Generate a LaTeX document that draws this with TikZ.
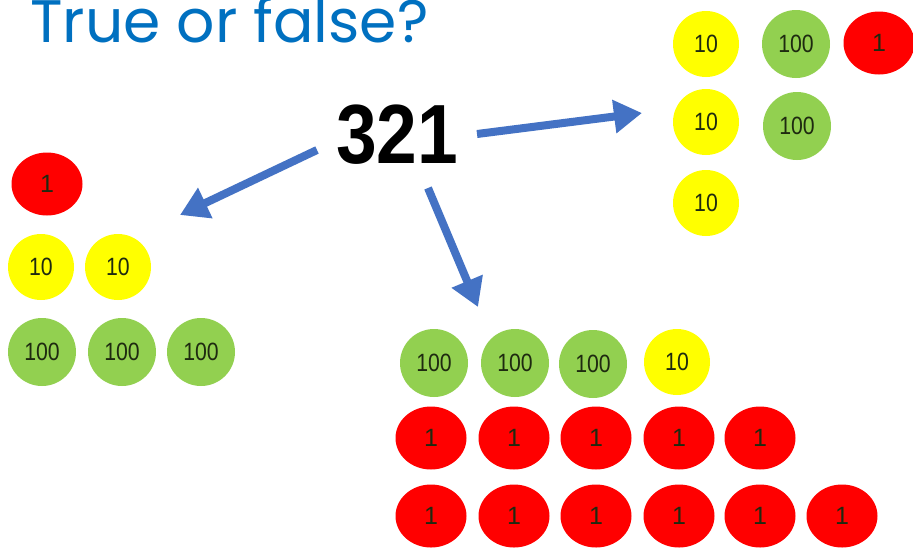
\documentclass[tikz,border=0pt]{standalone}
\usepackage{fontspec}
\setmainfont{Liberation Sans}
\newfontfamily\titlefont{Poppins}
\newfontfamily\numfont{Liberation Sans}
\usetikzlibrary{shapes.geometric,arrows.meta}
\definecolor{chipyellow}{HTML}{FFFF00}
\definecolor{chipgreen}{HTML}{92D050}
\definecolor{chipred}{HTML}{FF0000}
\definecolor{arrowblue}{HTML}{4472C4}
\definecolor{titleblue}{HTML}{0070C0}
\definecolor{chiptext}{HTML}{1E2A10}
\tikzset{
  chip/.style={inner sep=0pt, text=chiptext, font=\numfont\fontsize{25}{25}\selectfont},
  ten/.style={chip, circle, fill=chipyellow, minimum size=66pt},
  hundred/.style={chip, circle, fill=chipgreen, minimum size=68pt},
  one/.style={chip, ellipse, fill=chipred, minimum width=71pt, minimum height=63pt},
  arr/.style={draw=arrowblue, line width=8pt, -{Triangle[length=28pt,width=32pt]}},
}
\begin{document}
\begin{tikzpicture}[x=1pt,y=-1pt]
\useasboundingbox (0,0) rectangle (913,550);
\fill[white] (0,0) rectangle (913,550);
% title
\node[anchor=base west, inner sep=0pt, text=titleblue, font=\titlefont\fontsize{60}{60}\selectfont] (title) at (30,42) {True or false?};
% central number
\node[inner sep=0pt, font=\numfont\bfseries\fontsize{84}{84}\selectfont] (num) at (397,135) {\scalebox{0.87}[1]{321}};
% top right group
\node[ten] (tr1) at (706,44) {\scalebox{0.85}[1]{10}};
\node[hundred] (tr2) at (796,44) {\scalebox{0.85}[1]{100}};
\node[one] (tr3) at (879,43) {1};
\node[ten] (tr4) at (706,122) {\scalebox{0.85}[1]{10}};
\node[hundred] (tr5) at (797,126) {\scalebox{0.85}[1]{100}};
\node[ten] (tr6) at (706,203) {\scalebox{0.85}[1]{10}};
% left group
\node[one] (l1) at (47,184) {1};
\node[ten] (l2) at (41,267) {\scalebox{0.85}[1]{10}};
\node[ten] (l3) at (118,267) {\scalebox{0.85}[1]{10}};
\node[hundred] (l4) at (42,352) {\scalebox{0.85}[1]{100}};
\node[hundred] (l5) at (122,352) {\scalebox{0.85}[1]{100}};
\node[hundred] (l6) at (201,352) {\scalebox{0.85}[1]{100}};
% bottom group
\node[hundred] (b1) at (434,363) {\scalebox{0.85}[1]{100}};
\node[hundred] (b2) at (515,363) {\scalebox{0.85}[1]{100}};
\node[hundred] (b3) at (593,364) {\scalebox{0.85}[1]{100}};
\node[ten] (b4) at (677,362) {\scalebox{0.85}[1]{10}};
\node[one] (b5) at (431,438) {1};
\node[one] (b6) at (514,438) {1};
\node[one] (b7) at (596,438) {1};
\node[one] (b8) at (679,438) {1};
\node[one] (b9) at (760,438) {1};
\node[one] (b10) at (431,516) {1};
\node[one] (b11) at (514,516) {1};
\node[one] (b12) at (596,516) {1};
\node[one] (b13) at (679,516) {1};
\node[one] (b14) at (760,516) {1};
\node[one] (b15) at (842,516) {1};
% arrows
\coordinate (rs) at (477,134);
\coordinate (re) at (642,113);
\coordinate (ls) at (317,150);
\coordinate (le) at (180,215);
\coordinate (ds) at (428,188);
\coordinate (de) at (478,307);
\draw[arr] (rs) -- (re);
\draw[arr] (ls) -- (le);
\draw[arr] (ds) -- (de);
\end{tikzpicture}
\end{document}
